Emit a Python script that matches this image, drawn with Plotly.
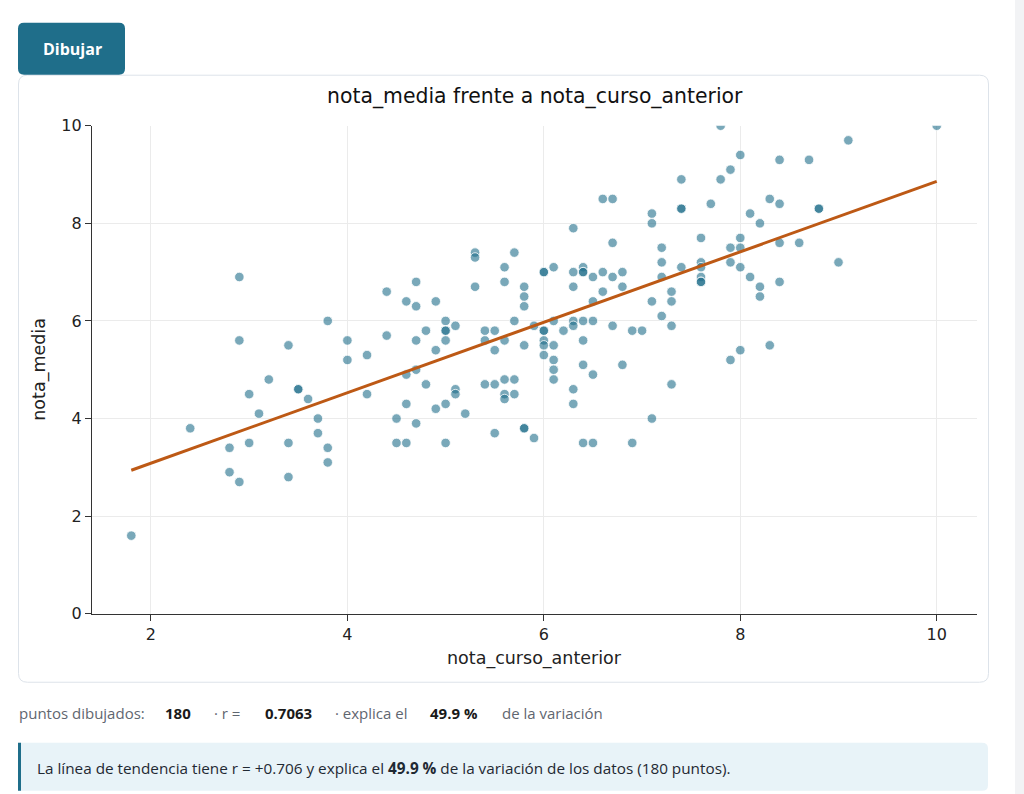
import plotly.graph_objects as go

W, H = 1024, 794
# the page is shown with a small top offset and slight vertical scaling;
# these constants map reference pixel rows to figure rows
OFF_Y = 8.3
SCALE_Y = 0.976

# ---- data ----
nota_curso_anterior = [
    1.8, 2.4, 2.8, 2.8, 2.9, 2.9, 2.9, 3.0, 3.0, 3.1, 3.2, 3.4, 3.4, 3.4, 3.5, 3.5, 3.6, 3.7, 3.7, 3.8, 3.8, 3.8,
    4.0, 4.0, 4.2, 4.2, 4.4, 4.4, 4.5, 4.5, 4.6, 4.6, 4.6, 4.6, 4.7, 4.7, 4.7, 4.7, 4.7, 4.8, 4.8, 4.9, 4.9, 4.9,
    5.0, 5.0, 5.0, 5.0, 5.0, 5.0, 5.1, 5.1, 5.1, 5.2, 5.3, 5.3, 5.3, 5.4, 5.4, 5.4, 5.5, 5.5, 5.5, 5.5,
    5.6, 5.6, 5.6, 5.6, 5.6, 5.6, 5.7, 5.7, 5.7, 5.7, 5.8, 5.8, 5.8, 5.8, 5.8, 5.8, 5.9, 5.9,
    6.0, 6.0, 6.0, 6.0, 6.0, 6.0, 6.0, 6.1, 6.1, 6.1, 6.1, 6.1, 6.1, 6.2, 6.3, 6.3, 6.3, 6.3, 6.3, 6.3, 6.3,
    6.4, 6.4, 6.4, 6.4, 6.4, 6.4, 6.4, 6.5, 6.5, 6.5, 6.5, 6.5, 6.6, 6.6, 6.6, 6.7, 6.7, 6.7, 6.7,
    6.8, 6.8, 6.8, 6.9, 6.9, 7.0, 7.1, 7.1, 7.1, 7.1, 7.2, 7.2, 7.2, 7.2, 7.3, 7.3, 7.3, 7.3,
    7.4, 7.4, 7.4, 7.4, 7.6, 7.6, 7.6, 7.6, 7.6, 7.6, 7.7, 7.8, 7.8, 7.9, 7.9, 7.9, 7.9,
    8.0, 8.0, 8.0, 8.0, 8.0, 8.1, 8.1, 8.2, 8.2, 8.2, 8.3, 8.3, 8.4, 8.4, 8.4, 8.4, 8.6, 8.7, 8.8, 8.8,
    9.0, 9.1, 10.0,
]
nota_media = [
    1.6, 3.8, 3.4, 2.9, 6.9, 5.6, 2.7, 4.5, 3.5, 4.1, 4.8, 5.5, 3.5, 2.8, 4.6, 4.6, 4.4, 4.0, 3.7, 6.0, 3.4, 3.1,
    5.6, 5.2, 5.3, 4.5, 6.6, 5.7, 4.0, 3.5, 6.4, 4.9, 4.3, 3.5, 6.8, 6.3, 5.6, 5.0, 3.9, 5.8, 4.7, 6.4, 5.4, 4.2,
    6.0, 5.8, 5.8, 5.6, 4.3, 3.5, 5.9, 4.6, 4.5, 4.1, 7.4, 7.3, 6.7, 5.8, 5.6, 4.7, 5.8, 5.4, 4.7, 3.7,
    7.1, 6.8, 5.6, 4.8, 4.5, 4.4, 7.4, 6.0, 4.8, 4.5, 6.7, 6.5, 6.3, 5.5, 3.8, 3.8, 5.9, 3.6,
    7.0, 7.0, 5.8, 5.8, 5.6, 5.5, 5.3, 7.1, 6.0, 5.5, 5.2, 5.0, 4.8, 5.8, 7.9, 7.0, 6.7, 6.0, 5.9, 4.6, 4.3,
    7.1, 7.0, 7.0, 6.0, 5.6, 5.1, 3.5, 6.9, 6.4, 6.0, 4.9, 3.5, 8.5, 7.0, 6.6, 8.5, 7.6, 6.9, 5.9,
    7.0, 6.7, 5.1, 5.8, 3.5, 5.8, 8.2, 8.0, 6.4, 4.0, 7.5, 7.2, 6.9, 6.1, 6.6, 6.4, 5.9, 4.7,
    8.9, 8.3, 8.3, 7.1, 7.7, 7.2, 7.1, 6.9, 6.8, 6.8, 8.4, 10.0, 8.9, 9.1, 7.5, 7.2, 5.2,
    9.4, 7.7, 7.5, 7.1, 5.4, 8.2, 6.9, 8.0, 6.7, 6.5, 8.5, 5.5, 9.3, 8.4, 7.6, 6.8, 7.6, 9.3, 8.3, 8.3,
    7.2, 9.7, 10.0,
]
trend_x = [1.8, 10.0]
trend_y = [2.94, 8.86]

x_ticks = [2, 4, 6, 8, 10]
y_ticks = [0, 2, 4, 6, 8, 10]

title_text = "nota_media frente a nota_curso_anterior"
x_label = "nota_curso_anterior"
y_label = "nota_media"
n_points_label = "180"
r_label = "0.7063"
pct_label = "49.9 %"
info_text = ("La línea de tendencia tiene r = +0.706 y explica el <b>49.9 %</b> "
             "de la variación de los datos (180 puntos).")

# ---- helpers for pixel placement (reference pixel coords -> paper) ----
def fx(px):
    return px / W

def fy(py):
    return 1 - ((py - OFF_Y) / SCALE_Y) / H

def rrect(x0, y0, x1, y1, r, rl=True, rr=True):
    rx, ry = r / W, r / H
    X0, X1 = fx(x0), fx(x1)
    Y0, Y1 = fy(y0), fy(y1)
    p = []
    if rl:
        p.append(f"M{X0},{Y0 - ry}")
        p.append(f"Q{X0},{Y0} {X0 + rx},{Y0}")
    else:
        p.append(f"M{X0},{Y0}")
    if rr:
        p.append(f"L{X1 - rx},{Y0}")
        p.append(f"Q{X1},{Y0} {X1},{Y0 - ry}")
        p.append(f"L{X1},{Y1 + ry}")
        p.append(f"Q{X1},{Y1} {X1 - rx},{Y1}")
    else:
        p.append(f"L{X1},{Y0}")
        p.append(f"L{X1},{Y1}")
    if rl:
        p.append(f"L{X0 + rx},{Y1}")
        p.append(f"Q{X0},{Y1} {X0},{Y1 + ry}")
    else:
        p.append(f"L{X0},{Y1}")
    p.append("Z")
    return " ".join(p)

TEAL = "#1f6e8a"

fig = go.Figure()
fig.add_trace(go.Scatter(
    x=nota_curso_anterior, y=nota_media, mode="markers",
    marker=dict(size=9.5, color="rgba(31,110,138,0.6)",
                line=dict(color="white", width=0.8)),
    hoverinfo="skip", showlegend=False,
))
fig.add_trace(go.Scatter(
    x=trend_x, y=trend_y, mode="lines",
    line=dict(color="#bd5915", width=3),
    hoverinfo="skip", showlegend=False,
))

shapes = [
    dict(type="rect", xref="paper", yref="paper", x0=fx(1015), x1=1, y0=-0.1, y1=1.1,
         fillcolor="#f2f3f5", line=dict(width=0), layer="below"),
    dict(type="path", xref="paper", yref="paper", path=rrect(18.5, 74.5, 988.5, 681.5, 9),
         fillcolor="white", line=dict(color="#dde3ea", width=1), layer="below"),
    dict(type="path", xref="paper", yref="paper", path=rrect(18, 22, 125, 74, 6),
         fillcolor=TEAL, line=dict(width=0), layer="below"),
    dict(type="path", xref="paper", yref="paper", path=rrect(18, 742, 988, 790, 6, rl=False),
         fillcolor="#e8f3f8", line=dict(width=0), layer="below"),
    dict(type="rect", xref="paper", yref="paper", x0=fx(18), x1=fx(21), y0=fy(790), y1=fy(742),
         fillcolor=TEAL, line=dict(width=0), layer="below"),
]

UI_FONT = "Open Sans"
CHART_FONT = "DejaVu Sans"
annotations = [
    dict(text="<b>Dibujar</b>", x=fx(72), y=fy(48), xref="paper", yref="paper",
         showarrow=False, font=dict(family=UI_FONT, size=16, color="white"),
         xanchor="center", yanchor="middle"),
    dict(text=title_text, x=fx(535), y=fy(96), xref="paper", yref="paper",
         showarrow=False, font=dict(family=CHART_FONT, size=20.4, color="#111111"),
         xanchor="center", yanchor="middle"),
    dict(text=x_label, x=fx(534), y=fy(658), xref="paper", yref="paper",
         showarrow=False, font=dict(family=CHART_FONT, size=17.5, color="#222222"),
         xanchor="center", yanchor="middle"),
    dict(text=y_label, x=fx(40), y=fy(369), xref="paper", yref="paper", textangle=-90,
         showarrow=False, font=dict(family=CHART_FONT, size=17.5, color="#222222"),
         xanchor="center", yanchor="middle"),
    dict(text=info_text, x=fx(35), y=fy(767), xref="paper", yref="paper",
         showarrow=False, font=dict(family=UI_FONT, size=15.3, color="#1f2933"),
         xanchor="left", yanchor="middle"),
]

stats = [
    ("puntos dibujados:", 17, False),
    (n_points_label, 163, True),
    ("· r =", 212, False),
    (r_label, 263, True),
    ("· explica el", 333, False),
    (pct_label, 428, True),
    ("de la variación", 500, False),
]
for txt, px, bold in stats:
    annotations.append(dict(
        text=f"<b>{txt}</b>" if bold else txt, x=fx(px), y=fy(712),
        xref="paper", yref="paper", showarrow=False,
        font=dict(family=UI_FONT, size=15, color="#1a1a1a" if bold else "#5f6670"),
        xanchor="left", yanchor="middle"))

axis_common = dict(
    showline=True, linecolor="#333333", linewidth=1.3,
    ticks="outside", ticklen=6, tickwidth=1.2, tickcolor="#333333",
    showgrid=True, gridcolor="#ebebeb", gridwidth=1, zeroline=False,
    tickfont=dict(family=CHART_FONT, size=16, color="#222222"),
)

fig.update_layout(
    width=W, height=H, autosize=False,
    margin=dict(l=0, r=0, t=0, b=0),
    paper_bgcolor="white", plot_bgcolor="rgba(0,0,0,0)",
    xaxis=dict(domain=[fx(92), fx(977)], range=[1.4, 10.41], tickvals=x_ticks,
               **axis_common),
    yaxis=dict(domain=[fy(613), fy(125)], range=[0, 10], tickvals=y_ticks,
               **axis_common),
    shapes=shapes, annotations=annotations,
)

fig.write_html("out.html", config={"displayModeBar": False},
               post_script="document.body.style.margin='0';document.body.style.overflow='hidden';")
